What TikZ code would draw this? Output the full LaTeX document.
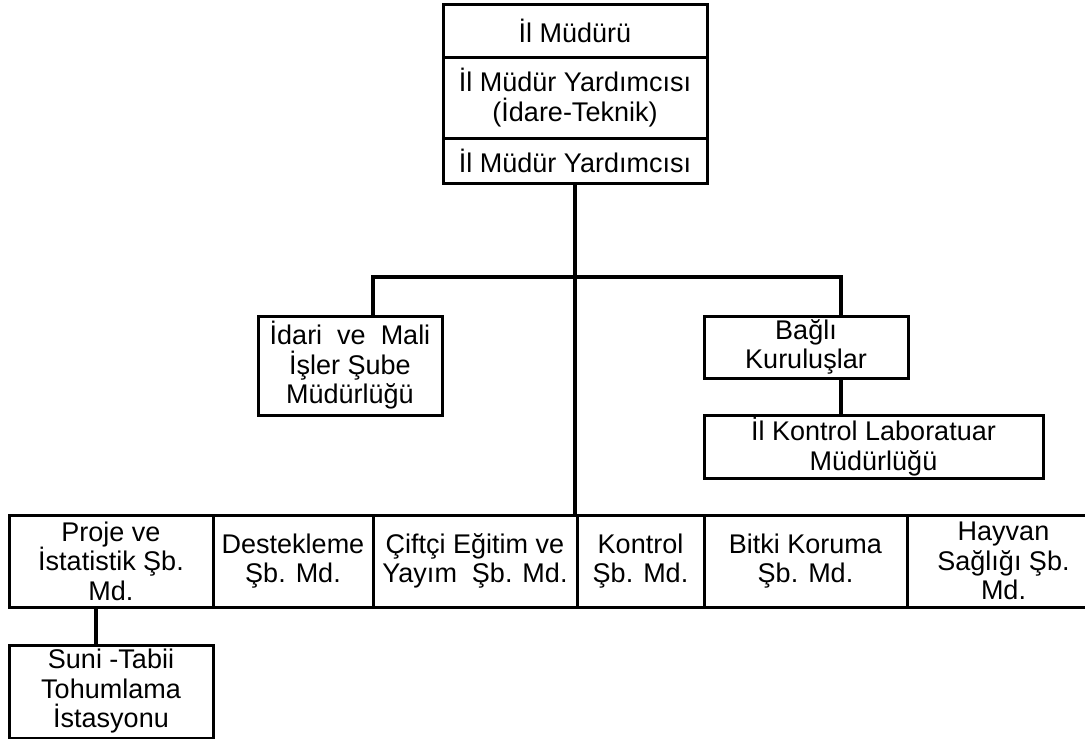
\documentclass[tikz,border=0pt]{standalone}
\usepackage{fontspec}
\setmainfont{Liberation Sans}
\begin{document}
\begin{tikzpicture}[x=1pt,y=-1pt,
    kutu/.style={draw,line width=3pt,rectangle,inner sep=0pt,align=center,
      font=\fontsize{27}{29.5}\selectfont},
    hat/.style={line width=3.2pt}]
        % 画布大小
        \useasboundingbox (0,0) rectangle (1085,739);
        % 顶部三层框
        \node[kutu,minimum width=264pt,minimum height=53pt] (mudur) at (575,30.5) {İl Müdürü};
        \node[kutu,minimum width=264pt,minimum height=81pt] (yrdA) at (575,97.5) {İl Müdür Yardımcısı\\(İdare-Teknik)};
        \node[kutu,minimum width=264pt,minimum height=45pt] (yrdB) at (575,160.5) {İl Müdür Yardımcısı};
        % 中间层
        \node[kutu,minimum width=184pt,minimum height=99pt] (idari) at (350,365.5) {İdari\ \ ve\ \ Mali\\İşler Şube\\Müdürlüğü};
        \node[kutu,minimum width=204pt,minimum height=62pt] (bagli) at (806,347) {Bağlı\\Kuruluşlar};
        \node[kutu,minimum width=339pt,minimum height=63pt] (lab) at (873.5,446.5) {İl Kontrol Laboratuar\\Müdürlüğü};
        % 底部一排
        \node[kutu,minimum width=204pt,minimum height=92pt] (proje) at (111,561) {Proje ve\\İstatistik Şb.\\Md.};
        \node[kutu,minimum width=160pt,minimum height=92pt] (destek) at (293,561) {Destekleme\\Şb. Md.};
        \node[kutu,minimum width=204pt,minimum height=92pt] (ciftci) at (475,561) {Çiftçi Eğitim ve\\Yayım\ \ Şb. Md.};
        \node[kutu,minimum width=127pt,minimum height=92pt] (kontrol) at (640.5,561) {Kontrol\\Şb. Md.};
        \node[kutu,minimum width=203pt,minimum height=92pt] (bitki) at (805.5,561) {Bitki Koruma\\Şb. Md.};
        \node[kutu,minimum width=193pt,minimum height=92pt] (hayvan) at (1003.5,561) {Hayvan\\Sağlığı Şb.\\Md.};
        \node[kutu,minimum width=204pt,minimum height=93pt] (suni) at (111,691.5) {Suni -Tabii\\Tohumlama\\İstasyonu};
        % 连线
        \coordinate (barL) at (373,277);
        \coordinate (barR) at (841,277);
        \draw[hat] (yrdB.south) -- (yrdB.south |- kontrol.north);        % 主干
        \draw[hat] (barL |- idari.north) -- (barL) -- (barR) -- (barR |- bagli.north);
        \draw[hat] (barR |- bagli.south) -- (barR |- lab.north);
        \draw[hat] ([xshift=-15pt]proje.south) -- ([xshift=-15pt]proje.south |- suni.north);
    \end{tikzpicture}
\end{document}
